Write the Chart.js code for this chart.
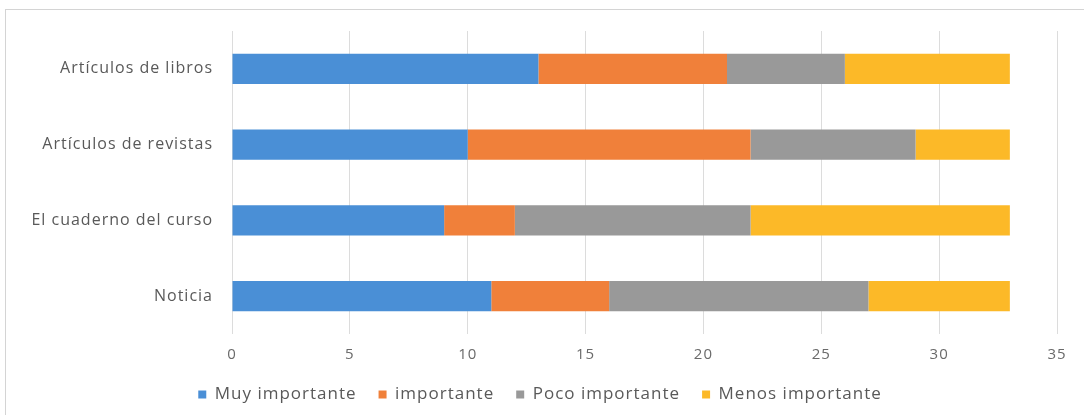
<!DOCTYPE html>
<html>
<head>
<meta charset="utf-8">
<script src="https://cdn.jsdelivr.net/npm/chart.js@4"></script>
<style>
  html, body { margin: 0; padding: 0; background: #fff; }
  #wrap { position: relative; width: 1084px; height: 415px; }
  #frame { position: absolute; left: 5px; top: 9px; width: 1090px; height: 420px; border: 1px solid #d4d4d4; box-sizing: border-box; }
  canvas { position: absolute; left: 0; top: 0; }
</style>
</head>
<body>
<div id="wrap">
  <div id="frame"></div>
  <canvas id="barChart" width="1084" height="415"></canvas>
</div>
<script>
var categories = ['Artículos de libros', 'Artículos de revistas', 'El cuaderno del curso', 'Noticia'];
var muyImportante = [13, 10, 9, 11];
var importante = [8, 12, 3, 5];
var pocoImportante = [5, 7, 10, 11];
var menosImportante = [7, 4, 11, 6];
var xTicks = [0, 5, 10, 15, 20, 25, 30, 35];

var font = "'Open Sans', 'Liberation Sans', sans-serif";
var textColor = '#595959';

function makeSet(label, values, color) {
  return {
    label: label,
    data: values,
    backgroundColor: color,
    borderWidth: 0,
    categoryPercentage: 1,
    barPercentage: 0.4
  };
}

// the original text is set a bit wide, so space the letters out
var wideText = {
  id: 'wideText',
  beforeLayout: function(chart) { chart.ctx.letterSpacing = '1px'; },
  beforeDraw: function(chart) { chart.ctx.letterSpacing = '1px'; }
};

var ctx = document.getElementById('barChart');
var barChart = new Chart(ctx, {
  type: 'bar',
  data: {
    labels: categories,
    datasets: [
      makeSet('Muy importante', muyImportante, '#4a8fd6'),
      makeSet('importante', importante, '#f0803a'),
      makeSet('Poco importante', pocoImportante, '#999999'),
      makeSet('Menos importante', menosImportante, '#fcb928')
    ]
  },
  plugins: [wideText],
  options: {
    indexAxis: 'y',
    responsive: false,
    animation: false,
    layout: { padding: { top: 31, right: 27, left: 23, bottom: 2 } },
    plugins: {
      tooltip: { enabled: false },
      legend: {
        position: 'bottom',
        labels: {
          boxWidth: 8,
          boxHeight: 8,
          padding: 22,
          color: textColor,
          font: { family: font, size: 17 }
        }
      }
    },
    scales: {
      x: {
        stacked: true,
        min: 0,
        max: 35,
        afterBuildTicks: function(scale) {
          scale.ticks = xTicks.map(function(v) { return { value: v }; });
        },
        afterFit: function(scale) { scale.height = 30; },
        grid: { color: '#dcdcdc', drawTicks: false },
        border: { display: false },
        ticks: { padding: 12, color: '#6a6a6a', font: { family: font, size: 15 } }
      },
      y: {
        stacked: true,
        afterFit: function(scale) { scale.width = 209; },
        grid: { display: false, drawTicks: false },
        border: { display: false },
        ticks: { padding: 19, color: textColor, font: { family: font, size: 16 } }
      }
    }
  }
});
</script>
</body>
</html>
